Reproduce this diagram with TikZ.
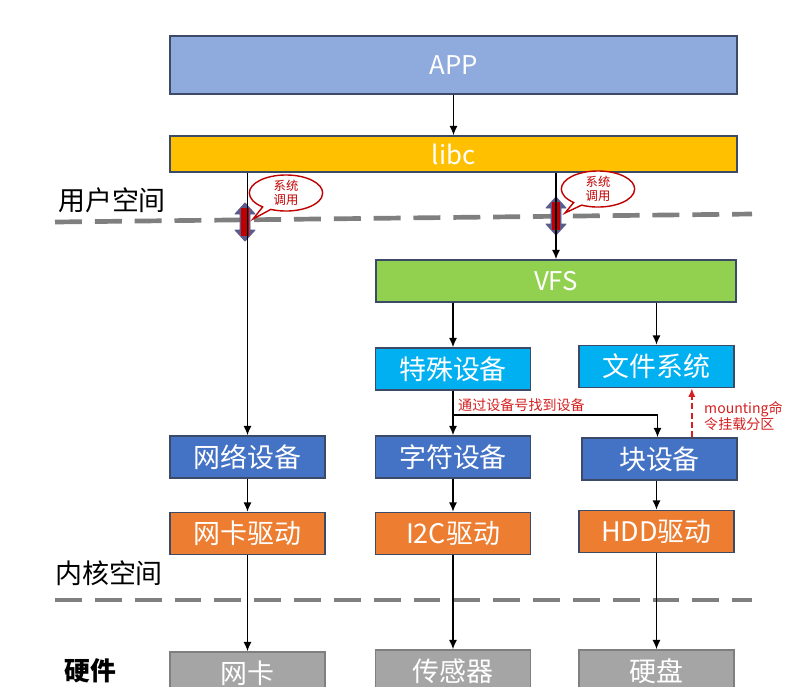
\documentclass[tikz,border=0pt]{standalone}
\usepackage{fontspec}
\setmainfont{Noto Sans CJK SC}
\usetikzlibrary{positioning,shapes.callouts,arrows.meta}
\definecolor{appBlue}{HTML}{8FAADC}
\definecolor{libcGold}{HTML}{FFC000}
\definecolor{vfsGreen}{HTML}{92D050}
\definecolor{devCyan}{HTML}{00B0F0}
\definecolor{devBlue}{HTML}{4472C4}
\definecolor{drvOrange}{HTML}{ED7D31}
\definecolor{hwGray}{HTML}{A5A5A5}
\definecolor{hwEdge}{HTML}{7F7F7F}
\definecolor{edgeSlate}{HTML}{3B4A66}
\definecolor{noteRed}{HTML}{D42020}
\definecolor{callRed}{HTML}{C00000}
\definecolor{sepGray}{HTML}{7F7F7F}
\definecolor{dblSlate}{HTML}{5B5A8C}
\tikzset{
  lbox/.style={rectangle,draw=edgeSlate,line width=1.3pt,fill=#1,text=white,
    minimum width=4.65cm,minimum height=1.26cm,inner sep=0pt,
    font=\fontsize{23}{26}\selectfont},
  lbox/.default=devBlue,
  wide/.style={minimum width=#1},
  arrow/.style={-{Latex[length=2.8mm,width=2.4mm]},draw=black,line width=1.1pt},
  mount/.style={-{Latex[length=2.6mm,width=2.2mm]},draw=noteRed,line width=1.4pt,
    dash pattern=on 5pt off 3pt},
  sepline/.style={draw=sepGray,line width=4pt,dash pattern=on 23pt off 11pt},
  layer/.style={font=\fontsize{23}{26}\selectfont,inner sep=0pt},
  note/.style={text=noteRed,font=\fontsize{12}{13.5}\selectfont,inner sep=0pt,align=left},
  syscall/.style={ellipse callout,draw=callRed,line width=1.2pt,fill=white,text=callRed,
    minimum width=2.2cm,minimum height=1.05cm,inner sep=0pt,align=center,
    font=\fontsize{10.5}{12}\selectfont},
  dbl/.style={fill=dblSlate,draw=dblSlate,line width=0.8pt,line join=round},
  dblcore/.style={fill=callRed}
}
\begin{document}
\begin{tikzpicture}[x=0.03cm,y=-0.03cm,node distance=0.99cm]
  \useasboundingbox (0,0) rectangle (811,686);
  \clip (0,0) rectangle (811,686);

  \node[lbox=appBlue, wide=17.01cm, minimum height=1.74cm, font=\fontsize{22}{26}\selectfont] (app) at (453.5,65) {APP};
  \node[lbox=libcGold, wide=17.01cm, minimum height=1.08cm, font=\fontsize{22}{26}\selectfont] (libc) at (453.5,154) {libc};
  \node[lbox=vfsGreen, wide=10.8cm, font=\fontsize{22}{26}\selectfont] (vfs) at (556,281) {VFS};
  \node[lbox=devCyan] (special) at (453,369) {特殊设备};
  \node[lbox=devCyan] (fsys) at (656.5,366.5) {文件系统};
  \node[lbox] (netdev) at (247.5,457) {网络设备};
  \node[lbox] (chardev) at (453,457) {字符设备};
  \node[lbox] (blkdev) at (659.5,459) {块设备};
  \node[lbox=drvOrange, below=of netdev] (netdrv) {网卡驱动};
  \node[lbox=drvOrange, below=of chardev] (i2cdrv) {I2C驱动};
  \node[lbox=drvOrange, at={(656.5,531.5)}] (hdddrv) {HDD驱动};
  \node[lbox=hwGray, draw=hwEdge] (nic) at (247.5,673) {网卡};
  \node[lbox=hwGray, draw=hwEdge] (sensor) at (453,671) {传感器};
  \node[lbox=hwGray, draw=hwEdge] (disk) at (656.5,671) {硬盘};

  \node[layer] (userlbl) at (112,200) {用户空间};
  \node[layer] (kernlbl) at (109,573) {内核空间};
  \node[layer, font=\fontsize{22}{26}\selectfont\bfseries] (hwlbl) at (90,671) {硬件};

  \draw[sepline] (55,222) -- (752,214);
  \draw[sepline] (55,600) -- (752,600);

  \coordinate (dblA) at (245,222);
  \coordinate (dblB) at (556,216);
  \foreach \c in {dblA,dblB} {
    \filldraw[dbl] (\c) ++(0,-19) -- ++(10,11) -- ++(-5,0) -- ++(0,16) -- ++(5,0)
      -- ++(-10,11) -- ++(-10,-11) -- ++(5,0) -- ++(0,-16) -- ++(-5,0) -- cycle;
    \fill[dblcore] (\c) ++(-4,-14) rectangle ++(8,28);
  }

  \node[syscall, callout absolute pointer={(253,219)}] (callA) at (286,193) {系统\\调用};
  \node[syscall, callout absolute pointer={(565,213)}] (callB) at (598,189) {系统\\调用};

  \draw[arrow] (app) -- (libc);
  \draw[arrow] (netdev.north |- libc.south) -- (netdev.north);
  \draw[arrow] (vfs.north |- libc.south) -- (vfs.north);
  \draw[arrow] (special.north |- vfs.south) -- (special.north);
  \draw[arrow] (fsys.north |- vfs.south) -- (fsys.north);
  \draw[arrow] (special) -- (chardev);
  \coordinate (split) at (453,415);
  \draw[arrow] (split) -| ([xshift=-0.06cm]blkdev.north);
  \node[note, anchor=west] (findlbl) at (458,405) {通过设备号找到设备};
  \draw[mount] ([xshift=0.97cm]blkdev.north) -- ([xshift=0.97cm]blkdev.north |- fsys.south);
  \node[note, anchor=west] (mountlbl) at (704,416) {mounting命\\令挂载分区};

  \draw[arrow] (netdev) -- (netdrv);
  \draw[arrow] (chardev) -- (i2cdrv);
  \draw[arrow] ([xshift=-0.09cm]blkdev.south) -- (hdddrv.north);
  \draw[arrow] (netdrv) -- (nic);
  \draw[arrow] (i2cdrv) -- (sensor);
  \draw[arrow] (hdddrv) -- (disk);
\end{tikzpicture}
\end{document}
